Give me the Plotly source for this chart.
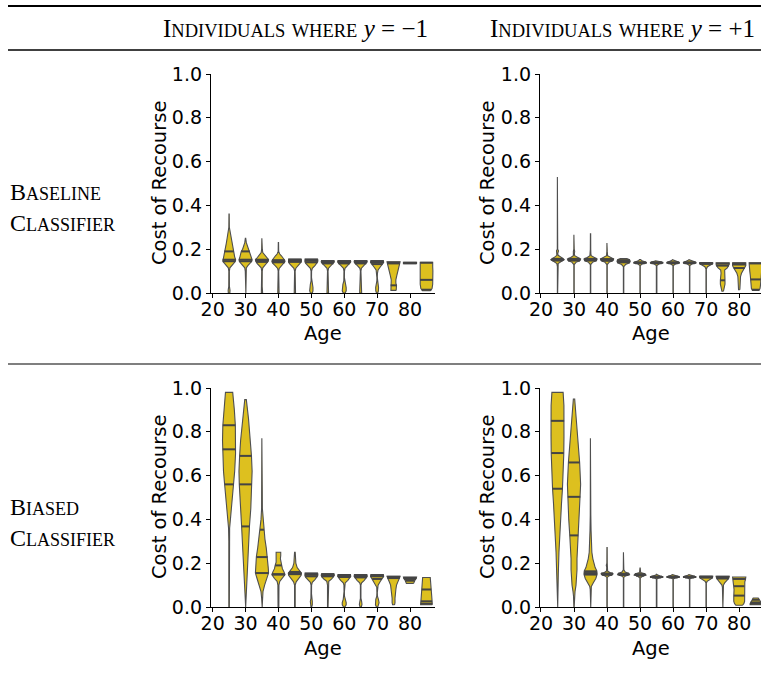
import numpy as np
import plotly.graph_objects as go

# ---------------- data ----------------
AGES = [25, 30, 35, 40, 45, 50, 55, 60, 65, 70, 75, 80, 85]
X_TICKS = [20, 30, 40, 50, 60, 70, 80]
Y_TICKS = [0.0, 0.2, 0.4, 0.6, 0.8, 1.0]

COL_TITLES = ["Individuals where y = −1", "Individuals where y = +1"]
ROW_TITLES = ["Baseline Classifier", "Biased Classifier"]

# violin profiles: cost levels and relative half-widths, and quartiles (Q1, median, Q3)
BASE_NEG_LEVELS = [
    [0.0, 0.012, 0.03, 0.06, 0.1, 0.115, 0.125, 0.135, 0.145, 0.152, 0.165, 0.18, 0.19, 0.2, 0.228, 0.25, 0.275, 0.3, 0.36],
    [0.0, 0.012, 0.03, 0.06, 0.1, 0.115, 0.125, 0.135, 0.145, 0.152, 0.165, 0.18, 0.19, 0.2, 0.215, 0.23, 0.25],
    [0.0, 0.015, 0.03, 0.1, 0.115, 0.125, 0.135, 0.145, 0.152, 0.162, 0.172, 0.185, 0.2, 0.25],
    [0.0, 0.02, 0.04, 0.1, 0.112, 0.125, 0.135, 0.143, 0.15, 0.16, 0.17, 0.178, 0.19, 0.23],
    [0.0, 0.015, 0.04, 0.1, 0.113, 0.125, 0.135, 0.142, 0.15, 0.155],
    [0.0, 0.01, 0.025, 0.04, 0.055, 0.07, 0.1, 0.113, 0.125, 0.135, 0.142, 0.15, 0.155],
    [0.0, 0.015, 0.035, 0.1, 0.113, 0.125, 0.135, 0.142, 0.148],
    [0.0, 0.01, 0.025, 0.04, 0.055, 0.07, 0.1, 0.113, 0.125, 0.135, 0.142, 0.148],
    [0.0, 0.012, 0.03, 0.1, 0.113, 0.125, 0.135, 0.142, 0.148],
    [0.0, 0.01, 0.025, 0.04, 0.055, 0.07, 0.09, 0.105, 0.12, 0.13, 0.14, 0.148],
    [0.012, 0.025, 0.035, 0.045, 0.06, 0.08, 0.1, 0.12, 0.135, 0.143],
    [0.134, 0.14],
    [0.01, 0.02, 0.04, 0.07, 0.1, 0.12, 0.14],
]
BASE_NEG_WIDTHS = [
    [0.12, 0.14, 0.05, 0.03, 0.04, 0.12, 0.35, 0.7, 0.95, 1.0, 0.85, 0.75, 0.72, 0.6, 0.42, 0.3, 0.12, 0.04, 0.02],
    [0.05, 0.05, 0.03, 0.03, 0.04, 0.12, 0.35, 0.7, 0.95, 1.0, 0.85, 0.7, 0.65, 0.45, 0.25, 0.12, 0.03],
    [0.1, 0.06, 0.03, 0.04, 0.12, 0.4, 0.75, 0.95, 1.0, 0.7, 0.4, 0.12, 0.05, 0.02],
    [0.1, 0.08, 0.03, 0.04, 0.12, 0.5, 0.85, 1.0, 0.95, 0.75, 0.45, 0.2, 0.04, 0.02],
    [0.1, 0.08, 0.03, 0.04, 0.15, 0.55, 0.85, 0.97, 1.0, 0.95],
    [0.15, 0.25, 0.25, 0.15, 0.04, 0.03, 0.04, 0.15, 0.55, 0.85, 0.97, 1.0, 0.95],
    [0.12, 0.1, 0.03, 0.04, 0.12, 0.5, 0.85, 1.0, 0.95],
    [0.15, 0.3, 0.3, 0.2, 0.06, 0.03, 0.04, 0.12, 0.5, 0.85, 1.0, 0.95],
    [0.15, 0.14, 0.03, 0.04, 0.12, 0.5, 0.85, 1.0, 0.95],
    [0.1, 0.2, 0.22, 0.15, 0.04, 0.03, 0.05, 0.15, 0.5, 0.8, 1.0, 0.95],
    [0.4, 0.45, 0.45, 0.35, 0.35, 0.5, 0.65, 0.8, 0.95, 1.0],
    [1.0, 1.0],
    [0.6, 0.85, 0.95, 1.0, 0.98, 0.95, 0.95],
]
BASE_NEG_QUARTILES = [
    [0.145, 0.152, 0.19], [0.145, 0.152, 0.19], [0.142, 0.148, 0.152], [0.14, 0.145, 0.15],
    [0.142, 0.147, 0.152], [0.14, 0.147, 0.152], [0.135, 0.14, 0.144], [0.135, 0.14, 0.144],
    [0.135, 0.14, 0.144], [0.132, 0.14, 0.144], [0.035, 0.135, 0.139], [0.136, 0.137, 0.138],
    [0.015, 0.06, 0.138],
]

BASE_POS_LEVELS = [
    [0.0, 0.12, 0.134, 0.145, 0.152, 0.158, 0.165, 0.172, 0.18, 0.186, 0.193, 0.2, 0.53],
    [0.0, 0.13, 0.14, 0.148, 0.155, 0.162, 0.17, 0.18, 0.19, 0.2, 0.266],
    [0.0, 0.13, 0.14, 0.148, 0.155, 0.162, 0.17, 0.18, 0.19, 0.2, 0.27],
    [0.0, 0.13, 0.14, 0.148, 0.155, 0.162, 0.17, 0.19, 0.228],
    [0.0, 0.12, 0.13, 0.138, 0.145, 0.152, 0.157],
    [0.0, 0.125, 0.132, 0.138, 0.143, 0.148, 0.153],
    [0.0, 0.125, 0.132, 0.138, 0.143, 0.147],
    [0.0, 0.125, 0.132, 0.138, 0.143, 0.148, 0.152],
    [0.0, 0.125, 0.132, 0.138, 0.143, 0.148, 0.152],
    [0.0, 0.11, 0.12, 0.128, 0.134, 0.138],
    [0.008, 0.02, 0.04, 0.058, 0.075, 0.09, 0.105, 0.115, 0.125, 0.132, 0.138],
    [0.015, 0.03, 0.05, 0.075, 0.09, 0.105, 0.115, 0.125, 0.132, 0.138],
    [0.012, 0.02, 0.035, 0.05, 0.065, 0.08, 0.1, 0.115, 0.125, 0.138],
]
BASE_POS_WIDTHS = [
    [0.02, 0.02, 0.1, 0.6, 1.0, 0.8, 0.4, 0.1, 0.04, 0.12, 0.15, 0.03, 0.02],
    [0.03, 0.03, 0.3, 0.9, 1.0, 0.5, 0.1, 0.05, 0.1, 0.03, 0.02],
    [0.03, 0.03, 0.3, 0.9, 1.0, 0.5, 0.1, 0.05, 0.08, 0.03, 0.02],
    [0.03, 0.03, 0.3, 0.9, 1.0, 0.5, 0.08, 0.03, 0.02],
    [0.03, 0.03, 0.3, 0.9, 1.0, 0.9, 0.5],
    [0.03, 0.03, 0.3, 1.0, 0.7, 0.2, 0.1],
    [0.04, 0.04, 0.35, 1.0, 0.6, 0.15],
    [0.03, 0.03, 0.35, 1.0, 0.7, 0.25, 0.1],
    [0.03, 0.03, 0.35, 1.0, 0.75, 0.3, 0.1],
    [0.03, 0.03, 0.2, 0.7, 1.0, 1.0],
    [0.12, 0.25, 0.35, 0.35, 0.33, 0.25, 0.3, 0.7, 0.95, 1.0, 1.0],
    [0.1, 0.1, 0.15, 0.2, 0.35, 0.6, 0.85, 1.0, 1.0, 1.0],
    [0.5, 0.65, 0.72, 0.75, 0.78, 0.82, 0.9, 0.97, 1.0, 1.0],
]
BASE_POS_QUARTILES = [
    [0.148, 0.152, 0.156], [0.148, 0.152, 0.156], [0.148, 0.152, 0.156], [0.147, 0.151, 0.155],
    [0.14, 0.145, 0.15], [0.136, 0.138, 0.14], [0.136, 0.138, 0.14], [0.136, 0.138, 0.14],
    [0.136, 0.138, 0.14], [0.133, 0.135, 0.137], [0.058, 0.125, 0.134], [0.114, 0.13, 0.135],
    [0.015, 0.062, 0.135],
]

BIAS_NEG_LEVELS = [
    [0.0, 0.3, 0.36, 0.4, 0.45, 0.5, 0.56, 0.62, 0.7, 0.76, 0.83, 0.9, 0.95, 0.98],
    [0.0, 0.04, 0.1, 0.16, 0.25, 0.37, 0.45, 0.56, 0.62, 0.69, 0.76, 0.82, 0.86, 0.9, 0.947],
    [0.0, 0.04, 0.07, 0.1, 0.13, 0.155, 0.18, 0.2, 0.23, 0.27, 0.31, 0.353, 0.4, 0.45, 0.55, 0.77],
    [0.0, 0.05, 0.1, 0.117, 0.13, 0.148, 0.16, 0.175, 0.19, 0.205, 0.22, 0.235, 0.25],
    [0.0, 0.1, 0.115, 0.13, 0.145, 0.155, 0.165, 0.18, 0.2, 0.22, 0.25],
    [0.0, 0.01, 0.025, 0.04, 0.06, 0.1, 0.113, 0.125, 0.135, 0.142, 0.15, 0.155],
    [0.0, 0.1, 0.117, 0.128, 0.137, 0.144, 0.152],
    [0.0, 0.01, 0.02, 0.035, 0.05, 0.07, 0.1, 0.11, 0.122, 0.132, 0.14, 0.148],
    [0.0, 0.012, 0.025, 0.04, 0.1, 0.11, 0.122, 0.132, 0.14, 0.148],
    [0.0, 0.01, 0.02, 0.035, 0.05, 0.065, 0.09, 0.1, 0.115, 0.128, 0.14, 0.148],
    [0.01, 0.02, 0.04, 0.06, 0.08, 0.1, 0.115, 0.13, 0.14],
    [0.108, 0.115, 0.122, 0.13, 0.137],
    [0.01, 0.015, 0.03, 0.05, 0.08, 0.11, 0.135],
]
BIAS_NEG_WIDTHS = [
    [0.04, 0.04, 0.08, 0.2, 0.35, 0.5, 0.68, 0.85, 0.98, 1.0, 0.95, 0.8, 0.65, 0.55],
    [0.02, 0.08, 0.15, 0.25, 0.4, 0.6, 0.8, 0.95, 1.0, 0.9, 0.75, 0.6, 0.45, 0.3, 0.12],
    [0.03, 0.05, 0.15, 0.4, 0.75, 1.0, 0.95, 0.9, 0.85, 0.65, 0.45, 0.3, 0.15, 0.06, 0.04, 0.02],
    [0.06, 0.05, 0.08, 0.2, 0.6, 1.0, 0.85, 0.6, 0.5, 0.35, 0.3, 0.35, 0.35],
    [0.05, 0.05, 0.2, 0.6, 0.95, 1.0, 0.7, 0.35, 0.15, 0.12, 0.05],
    [0.05, 0.15, 0.15, 0.06, 0.03, 0.04, 0.15, 0.55, 0.85, 0.97, 1.0, 0.95],
    [0.04, 0.04, 0.15, 0.6, 0.9, 1.0, 0.95],
    [0.1, 0.3, 0.3, 0.15, 0.04, 0.03, 0.04, 0.15, 0.55, 0.85, 1.0, 0.95],
    [0.1, 0.2, 0.15, 0.04, 0.04, 0.15, 0.55, 0.85, 1.0, 0.95],
    [0.1, 0.25, 0.3, 0.2, 0.05, 0.03, 0.05, 0.15, 0.45, 0.75, 1.0, 0.95],
    [0.15, 0.22, 0.22, 0.25, 0.35, 0.45, 0.65, 0.9, 1.0],
    [0.55, 0.6, 0.75, 0.95, 1.0],
    [0.88, 0.9, 0.85, 0.8, 0.72, 0.65, 0.58],
]
BIAS_NEG_QUARTILES = [
    [0.56, 0.72, 0.83], [0.368, 0.56, 0.69], [0.155, 0.228, 0.353], [0.148, 0.15, 0.19],
    [0.15, 0.155, 0.16], [0.14, 0.147, 0.152], [0.14, 0.145, 0.15], [0.137, 0.142, 0.146],
    [0.135, 0.14, 0.145], [0.128, 0.14, 0.145], [0.132, 0.135, 0.138], [0.12, 0.128, 0.133],
    [0.015, 0.026, 0.08],
]

BIAS_POS_LEVELS = [
    [0.0, 0.08, 0.15, 0.25, 0.33, 0.4, 0.47, 0.54, 0.62, 0.7, 0.78, 0.85, 0.92, 0.98],
    [0.0, 0.05, 0.07, 0.1, 0.13, 0.17, 0.22, 0.27, 0.33, 0.4, 0.5, 0.56, 0.66, 0.75, 0.82, 0.88, 0.95],
    [0.0, 0.08, 0.094, 0.11, 0.13, 0.15, 0.165, 0.18, 0.2, 0.22, 0.25, 0.29, 0.35, 0.42, 0.77],
    [0.0, 0.135, 0.142, 0.148, 0.153, 0.158, 0.165, 0.18, 0.19, 0.2, 0.272],
    [0.0, 0.135, 0.142, 0.148, 0.153, 0.16, 0.17, 0.25],
    [0.0, 0.132, 0.14, 0.146, 0.152, 0.158, 0.178],
    [0.0, 0.128, 0.133, 0.137, 0.142, 0.146, 0.15],
    [0.0, 0.128, 0.133, 0.137, 0.141, 0.145, 0.148],
    [0.0, 0.128, 0.133, 0.137, 0.141, 0.145, 0.148],
    [0.0, 0.11, 0.117, 0.125, 0.133, 0.14],
    [0.0, 0.09, 0.1, 0.11, 0.12, 0.13, 0.14],
    [0.008, 0.015, 0.026, 0.05, 0.08, 0.1, 0.115, 0.125, 0.137],
    [0.01, 0.015, 0.026, 0.035, 0.041],
]
BIAS_POS_WIDTHS = [
    [0.03, 0.05, 0.12, 0.22, 0.32, 0.45, 0.6, 0.75, 0.88, 0.95, 0.98, 1.0, 0.97, 0.85],
    [0.02, 0.08, 0.15, 0.3, 0.4, 0.45, 0.45, 0.52, 0.65, 0.8, 0.95, 1.0, 0.85, 0.65, 0.5, 0.3, 0.1],
    [0.03, 0.05, 0.12, 0.4, 0.8, 1.0, 0.95, 0.7, 0.5, 0.35, 0.2, 0.12, 0.08, 0.04, 0.02],
    [0.03, 0.03, 0.3, 0.85, 0.9, 0.4, 0.08, 0.05, 0.12, 0.03, 0.02],
    [0.03, 0.03, 0.3, 0.9, 0.8, 0.25, 0.04, 0.02],
    [0.03, 0.03, 0.35, 0.9, 0.7, 0.08, 0.02],
    [0.04, 0.04, 0.4, 1.0, 0.5, 0.12, 0.05],
    [0.03, 0.03, 0.4, 1.0, 0.6, 0.3, 0.1],
    [0.03, 0.03, 0.4, 1.0, 0.6, 0.3, 0.1],
    [0.03, 0.03, 0.15, 0.55, 0.95, 1.0],
    [0.03, 0.04, 0.12, 0.3, 0.6, 0.9, 1.0],
    [0.5, 0.7, 0.82, 0.82, 0.78, 0.78, 0.85, 0.95, 1.0],
    [0.85, 0.85, 0.7, 0.5, 0.38],
]
BIAS_POS_QUARTILES = [
    [0.54, 0.703, 0.85], [0.327, 0.503, 0.66], [0.148, 0.155, 0.163], [0.147, 0.15, 0.153],
    [0.146, 0.149, 0.152], [0.143, 0.147, 0.15], [0.135, 0.137, 0.139], [0.135, 0.137, 0.139],
    [0.135, 0.137, 0.139], [0.134, 0.137, 0.139], [0.13, 0.135, 0.138], [0.052, 0.095, 0.128],
    [0.015, 0.021, 0.033],
]

# ---------------- styling ----------------
HALF_WIDTH = 2.0          # max half-width of a violin, in years
FILL = "#DDC01F"
EDGE = "#4F4F4F"
QLINE = "#444444"
W, H = 761, 677
SANS = "DejaVu Sans"
SERIF = "Liberation Serif"


def px_x(p):
    return p / W


def px_y(p):
    return 1 - p / H


def small_caps(text, big, small):
    out = []
    for word in text.split(" "):
        first = word[0]
        rest = word[1:]
        if first.isupper():
            out.append(f"<span style='font-size:{big}px'>{first}</span>"
                       f"<span style='font-size:{small}px'>{rest.upper()}</span>")
        else:
            out.append(f"<span style='font-size:{small}px'>{word.upper()}</span>")
    return " ".join(out)


fig = go.Figure()

panels = [
    ("x", "y", BASE_NEG_LEVELS, BASE_NEG_WIDTHS, BASE_NEG_QUARTILES),
    ("x2", "y2", BASE_POS_LEVELS, BASE_POS_WIDTHS, BASE_POS_QUARTILES),
    ("x3", "y3", BIAS_NEG_LEVELS, BIAS_NEG_WIDTHS, BIAS_NEG_QUARTILES),
    ("x4", "y4", BIAS_POS_LEVELS, BIAS_POS_WIDTHS, BIAS_POS_QUARTILES),
]

for xa, ya, levels, widths, quarts in panels:
    bx, by, qx, qy = [], [], [], []
    for age, lv, wd, qs in zip(AGES, levels, widths, quarts):
        lv = np.asarray(lv, float)
        wd = np.asarray(wd, float)
        right = age + HALF_WIDTH * wd
        left = age - HALF_WIDTH * wd
        bx += list(right) + list(left[::-1]) + [right[0], None]
        by += list(lv) + list(lv[::-1]) + [lv[0], None]
        for q in qs:
            hw = HALF_WIDTH * float(np.interp(q, lv, wd))
            qx += [age - hw, age + hw, None]
            qy += [q, q, None]
    fig.add_trace(go.Scatter(x=bx, y=by, xaxis=xa, yaxis=ya, mode="lines",
                             fill="toself", fillcolor=FILL,
                             line=dict(color=EDGE, width=1.1),
                             hoverinfo="skip", showlegend=False))
    fig.add_trace(go.Scatter(x=qx, y=qy, xaxis=xa, yaxis=ya, mode="lines",
                             line=dict(color=QLINE, width=2.0),
                             hoverinfo="skip", showlegend=False))

left_dom = [px_x(211), px_x(435)]
right_dom = [px_x(540), 1.0]
top_dom = [px_y(293), px_y(74)]
bot_dom = [px_y(607), px_y(388)]

axis_common = dict(showline=True, linecolor="black", linewidth=1.3, ticks="outside",
                   ticklen=4, tickwidth=1.1, tickcolor="black", showgrid=False,
                   zeroline=False, automargin=False,
                   tickfont=dict(family=SANS, size=19, color="black"))

layouts = {}
for i, (xd, yd, xr) in enumerate([(left_dom, top_dom, [19.5, 87.6]),
                                   (right_dom, top_dom, [19.7, 86.6]),
                                   (left_dom, bot_dom, [19.5, 87.6]),
                                   (right_dom, bot_dom, [19.7, 86.6])]):
    s = "" if i == 0 else str(i + 1)
    layouts["xaxis" + s] = dict(axis_common, domain=xd, range=xr, anchor="y" + s,
                                tickvals=X_TICKS, ticktext=[str(t) for t in X_TICKS],
                                ticklabelstandoff=-5)
    layouts["yaxis" + s] = dict(axis_common, domain=yd, range=[0, 1], anchor="x" + s,
                                tickvals=Y_TICKS, ticktext=[f"{t:.1f}" for t in Y_TICKS])

annotations = []
# axis titles
for cx_title, cx_age in [(159, 323), (487, 651)]:
    for cy_mid, cy_age in [(183, 333), (497, 648)]:
        annotations.append(dict(x=px_x(cx_title), y=px_y(cy_mid), xref="paper", yref="paper",
                                text="Cost of Recourse", textangle=-90, showarrow=False,
                                font=dict(family=SANS, size=19.5, color="black"),
                                xanchor="center", yanchor="middle"))
        annotations.append(dict(x=px_x(cx_age), y=px_y(cy_age), xref="paper", yref="paper",
                                text="Age", showarrow=False,
                                font=dict(family=SANS, size=19.5, color="black"),
                                xanchor="center", yanchor="middle"))

# column headers
for title, cx in zip(COL_TITLES, [295, 622]):
    head, rest = title.split(" y ")
    txt = small_caps(head, 25, 18.5) + " <i>y</i> " + rest
    annotations.append(dict(x=px_x(cx), y=px_y(28), xref="paper", yref="paper", text=txt,
                            showarrow=False, xanchor="center", yanchor="middle",
                            font=dict(family=SERIF, size=25, color="black")))

# row headers
for title, cy in zip(ROW_TITLES, [207, 522]):
    w1, w2 = title.split(" ")
    txt = small_caps(w1, 24, 18) + "<br>" + small_caps(w2, 24, 18)
    annotations.append(dict(x=px_x(8), y=px_y(cy), xref="paper", yref="paper", text=txt,
                            showarrow=False, xanchor="left", yanchor="middle", align="left",
                            font=dict(family=SERIF, size=24, color="black")))

shapes = [
    dict(type="line", xref="paper", yref="paper", x0=px_x(8), x1=1, y0=px_y(6), y1=px_y(6),
         line=dict(color="black", width=2.2)),
    dict(type="line", xref="paper", yref="paper", x0=px_x(8), x1=1, y0=px_y(50), y1=px_y(50),
         line=dict(color="black", width=1.3)),
    dict(type="line", xref="paper", yref="paper", x0=px_x(8), x1=1, y0=px_y(364), y1=px_y(364),
         line=dict(color="black", width=1.1)),
]

fig.update_layout(width=W, height=H, margin=dict(l=0, r=0, t=0, b=0, pad=0),
                  paper_bgcolor="white", plot_bgcolor="white",
                  annotations=annotations, shapes=shapes, showlegend=False, **layouts)

fig.write_html("out.html", config={"displayModeBar": False},
               post_script="document.body.style.margin='0';document.body.style.padding='0';")
